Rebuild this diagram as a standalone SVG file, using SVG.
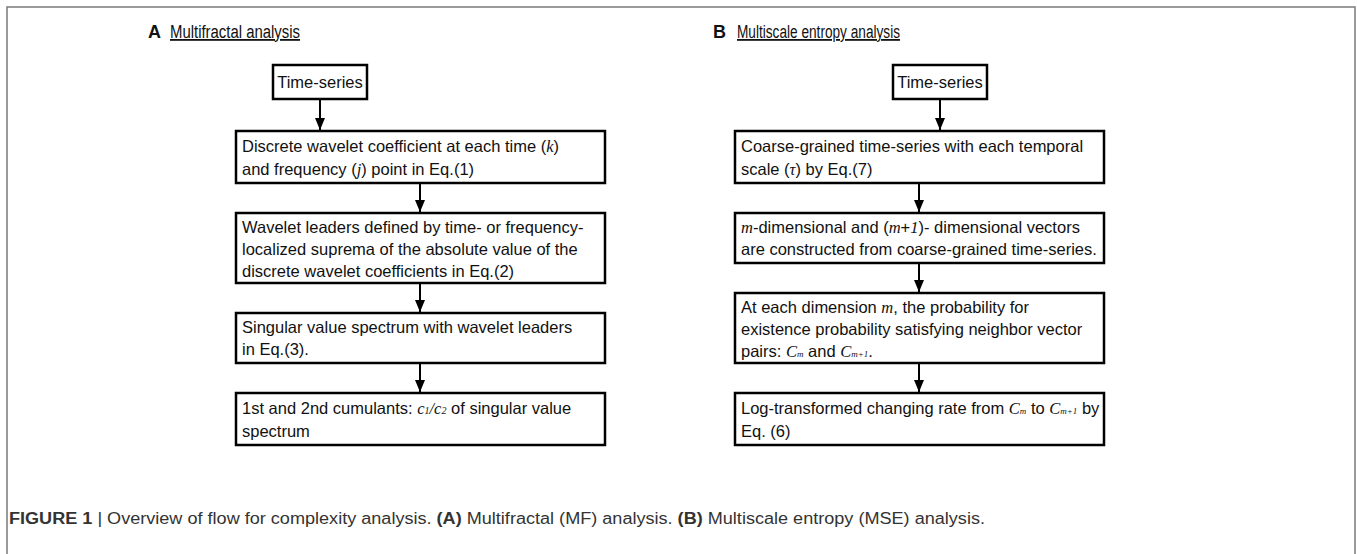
<svg xmlns="http://www.w3.org/2000/svg" width="1357" height="554" viewBox="0 0 1357 554">
<defs>
<marker id="ah" markerWidth="12" markerHeight="10" refX="12" refY="5" orient="auto" markerUnits="userSpaceOnUse" viewBox="0 0 12 10">
<path d="M0,0 L12,5 L0,10 Z" fill="#000"/>
</marker>
<style>
.frame{fill:#fff;stroke:#7a7a7a;stroke-width:1.5}
.box{fill:#fff;stroke:#000;stroke-width:2.5}
.t{font-family:"Liberation Sans",Arial,sans-serif;font-size:16.5px;fill:#111}
.m{font-family:"Liberation Serif","Times New Roman",serif;font-style:italic}
.h{font-family:"Liberation Sans",Arial,sans-serif;font-size:18px;fill:#111}
.hb{font-family:"Liberation Sans",Arial,sans-serif;font-weight:bold;font-size:18px;fill:#111}
.cap{font-family:"Liberation Sans",Arial,sans-serif;font-size:16px;fill:#333}
.conn line{stroke:#000;stroke-width:2;marker-end:url(#ah)}
</style>
</defs>
<rect class="frame" x="7" y="7" width="1348" height="560"/>

<g id="headA">
<text class="hb" x="148" y="38">A</text>
<text class="h" x="170" y="38" textLength="130" lengthAdjust="spacingAndGlyphs" text-decoration="underline">Multifractal analysis</text>
</g>
<g id="headB">
<text class="hb" x="713" y="38">B</text>
<text class="h" x="737" y="38" textLength="163" lengthAdjust="spacingAndGlyphs" text-decoration="underline">Multiscale entropy analysis</text>
</g>

<g id="a0"><rect class="box" x="273" y="65" width="94" height="34"/><text class="t" x="320" y="88" text-anchor="middle">Time-series</text></g>
<g id="a1"><rect class="box" x="236" y="131" width="369" height="52"/>
<text class="t" x="242" y="152">Discrete wavelet coefficient at each time (<tspan class="m">k</tspan>)</text>
<text class="t" x="242" y="175">and frequency (<tspan class="m">j</tspan>) point in Eq.(1)</text></g>
<g id="a2"><rect class="box" x="236" y="213" width="369" height="70"/>
<text class="t" x="242" y="233">Wavelet leaders defined by time- or frequency-</text>
<text class="t" x="242" y="255">localized suprema of the absolute value of the</text>
<text class="t" x="242" y="277">discrete wavelet coefficients in Eq.(2)</text></g>
<g id="a3"><rect class="box" x="236" y="313" width="369" height="50"/>
<text class="t" x="242" y="333">Singular value spectrum with wavelet leaders</text>
<text class="t" x="242" y="355">in Eq.(3).</text></g>
<g id="a4"><rect class="box" x="236" y="393" width="369" height="52"/>
<text class="t" x="242" y="414">1st and 2nd cumulants: <tspan class="m">c<tspan font-size="10">1</tspan>/c<tspan font-size="10">2</tspan></tspan> of singular value</text>
<text class="t" x="242" y="437">spectrum</text></g>

<g id="b0"><rect class="box" x="893" y="65" width="94" height="34"/><text class="t" x="940" y="88" text-anchor="middle">Time-series</text></g>
<g id="b1"><rect class="box" x="735" y="131" width="369" height="52"/>
<text class="t" x="741" y="152">Coarse-grained time-series with each temporal</text>
<text class="t" x="741" y="175">scale (<tspan class="m">τ</tspan>) by Eq.(7)</text></g>
<g id="b2"><rect class="box" x="735" y="213" width="369" height="50"/>
<text class="t" x="741" y="233"><tspan class="m">m</tspan>-dimensional and (<tspan class="m">m</tspan>+<tspan class="m">1</tspan>)- dimensional vectors</text>
<text class="t" x="741" y="255">are constructed from coarse-grained time-series.</text></g>
<g id="b3"><rect class="box" x="735" y="293" width="369" height="70"/>
<text class="t" x="741" y="313">At each dimension <tspan class="m">m</tspan>, the probability for</text>
<text class="t" x="741" y="335">existence probability satisfying neighbor vector</text>
<text class="t" x="741" y="357">pairs: <tspan class="m">C<tspan font-size="9">m</tspan></tspan> and <tspan class="m">C<tspan font-size="9">m+1</tspan></tspan>.</text></g>
<g id="b4"><rect class="box" x="735" y="393" width="369" height="52"/>
<text class="t" x="741" y="414">Log-transformed changing rate from <tspan class="m">C<tspan font-size="9">m</tspan></tspan> to <tspan class="m">C<tspan font-size="9">m+1</tspan></tspan> by</text>
<text class="t" x="741" y="437">Eq. (6)</text></g>

<g id="connectors" class="conn">
<line x1="320" y1="99" x2="320" y2="130"/>
<line x1="420" y1="183" x2="420" y2="212"/>
<line x1="420" y1="283" x2="420" y2="312"/>
<line x1="420" y1="363" x2="420" y2="392"/>
<line x1="940" y1="99" x2="940" y2="130"/>
<line x1="919" y1="183" x2="919" y2="212"/>
<line x1="919" y1="263" x2="919" y2="292"/>
<line x1="919" y1="363" x2="919" y2="392"/>
</g>

<g id="caption">
<text class="cap" x="9" y="524" textLength="976" lengthAdjust="spacingAndGlyphs"><tspan font-weight="bold">FIGURE 1</tspan> | Overview of flow for complexity analysis. <tspan font-weight="bold">(A)</tspan> Multifractal (MF) analysis. <tspan font-weight="bold">(B)</tspan> Multiscale entropy (MSE) analysis.</text>
</g>
</svg>
